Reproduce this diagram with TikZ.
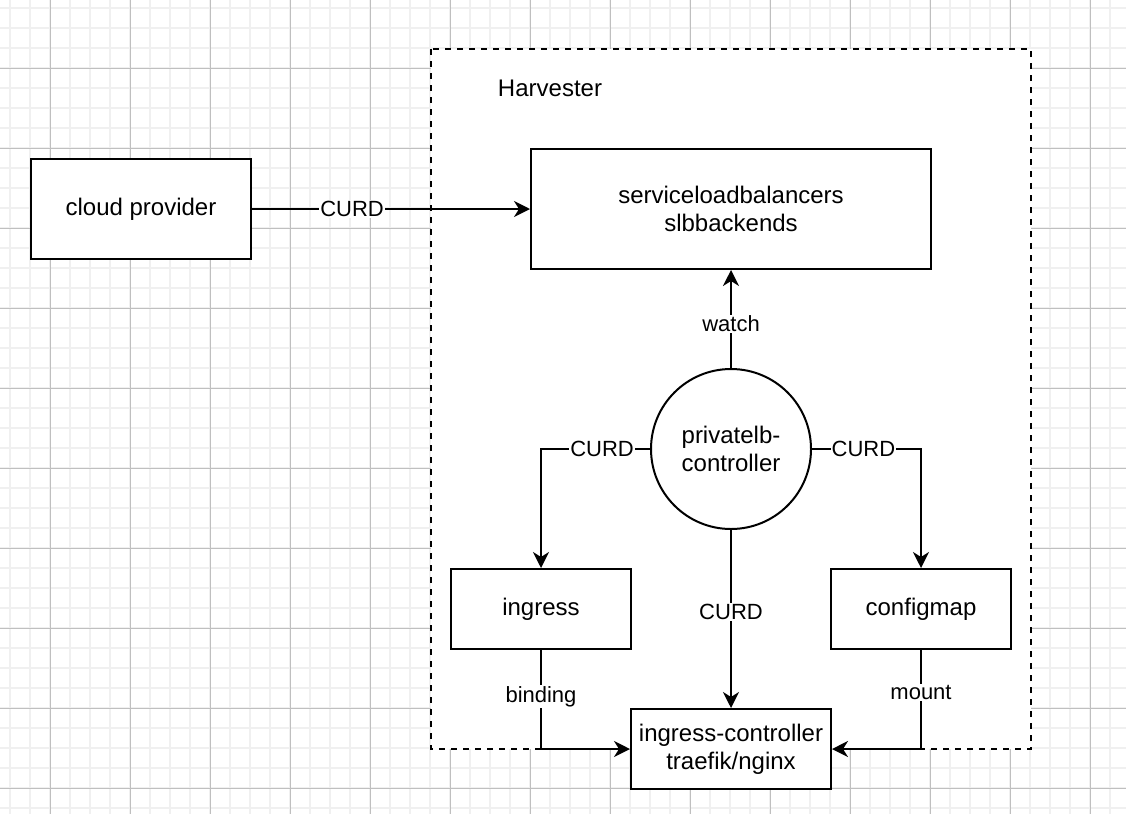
\documentclass[tikz,border=0pt]{standalone}
\usepackage{fontspec}
\setmainfont{Liberation Sans}
\usetikzlibrary{arrows.meta}
\begin{document}
\begin{tikzpicture}[x=1pt,y=-1pt,
  minorgrid/.style={draw=black!6, line width=2pt},
  majorgrid/.style={draw=black!25, line width=1pt},
  box/.style={draw, line width=2pt, fill=white, inner sep=0pt, align=center,
    font=\fontsize{24}{28}\selectfont},
  roundnode/.style={draw, circle, line width=2pt, fill=white, inner sep=0pt, align=center,
    minimum size=160pt, font=\fontsize{24}{28}\selectfont},
  harv/.style={draw, line width=2pt, fill=white, dash pattern=on 6pt off 6pt},
  arr/.style={draw, line width=2pt, -{Stealth[length=16pt, width=16pt, inset=5pt]}},
  lbl/.style={fill=white, inner sep=1pt, font=\fontsize{22}{26}\selectfont},
]
\useasboundingbox (0,0) rectangle (1126,814);
\fill[white] (0,0) rectangle (1126,814);
% grid
\foreach \x in {10,30,...,1126} \draw[minorgrid] (\x,0) -- (\x,814);
\foreach \y in {8,28,...,814} \draw[minorgrid] (0,\y) -- (1126,\y);
\foreach \x in {50,130,...,1126} \draw[majorgrid] (\x,0) -- (\x,814);
\foreach \y in {68,148,...,814} \draw[majorgrid] (0,\y) -- (1126,\y);

% Harvester container
\draw[harv] (431,49) rectangle (1031,749);
\node[font=\fontsize{24}{28}\selectfont] (harvlabel) at (550,88) {Harvester};

% nodes
\node[box, minimum width=220pt, minimum height=100pt] (cloud) at (141,209) {cloud provider};
\node[box, minimum width=400pt, minimum height=120pt] (slb) at (731,209) {serviceloadbalancers\\slbbackends};
\node[roundnode] (plb) at (731,449) {privatelb-\\controller};
\node[box, minimum width=180pt, minimum height=80pt] (ing) at (541,609) {ingress};
\node[box, minimum width=180pt, minimum height=80pt] (cfg) at (921,609) {configmap};
\node[box, minimum width=200pt, minimum height=80pt] (ic) at (731,749) {ingress-controller\\traefik/nginx};

% connectors
\draw[arr] (cloud.east) -- node[lbl, pos=0.36] {CURD} (slb.west);
\draw[arr] (plb.north) -- node[lbl, pos=0.45] {watch} (slb.south);
\draw[arr] (plb.west) -| node[lbl, pos=0.22] {CURD} (ing.north);
\draw[arr] (plb.east) -| node[lbl, pos=0.236] {CURD} (cfg.north);
\draw[arr] (plb.south) -- node[lbl, pos=0.46] {CURD} (ic.north);
\draw[arr] (ing.south) |- node[lbl, pos=0.235] {binding} (ic.west);
\draw[arr] (cfg.south) |- node[lbl, pos=0.215] {mount} (ic.east);
\end{tikzpicture}
\end{document}
